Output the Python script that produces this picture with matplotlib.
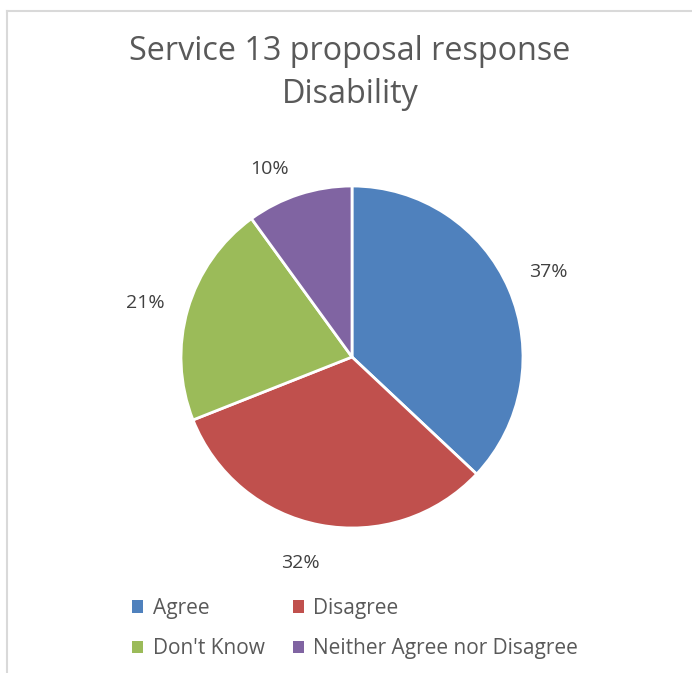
import matplotlib
matplotlib.use("Agg")
import numpy as np
import matplotlib.pyplot as plt
from matplotlib.patches import Patch
from matplotlib.lines import Line2D

categories = ["Agree", "Disagree", "Don't Know", "Neither Agree nor Disagree"]
values = [37, 32, 21, 10]
colors = ["#4F81BD", "#C0504D", "#9BBB59", "#8064A2"]
title = "Service 13 proposal response\nDisability"

# label placement tweaks (Excel best-fit style): radial distance, angular nudge (deg, clockwise)
label_dist = [1.25, 1.24, 1.25, 1.20]
label_nudge = [0.0, 3.4, -1.5, -5.7]

plt.rcParams['font.family'] = ['Open Sans', 'DejaVu Sans']
W, H = 692, 673
fig = plt.figure(figsize=(W/100, H/100), dpi=100)

# frame (top and left edges visible)
fig.add_artist(Line2D([6.5/W, 1.0], [1 - 10.5/H, 1 - 10.5/H], color="#D9D9D9", lw=1.5, transform=fig.transFigure))
fig.add_artist(Line2D([6.5/W, 6.5/W], [0, 1 - 10.5/H], color="#D9D9D9", lw=1.5, transform=fig.transFigure))

cx, cy, r = 352, 357, 171
ax = fig.add_axes([(cx - r)/W, 1 - (cy + r)/H, 2*r/W, 2*r/H])
wedges, texts = ax.pie(values, colors=colors, startangle=90, counterclock=False,
                       labels=[f"{v}%" for v in values], labeldistance=1.25,
                       wedgeprops=dict(edgecolor="white", linewidth=2, clip_on=False),
                       textprops=dict(color="#404040", fontsize=14))
for w, t, d, n in zip(wedges, texts, label_dist, label_nudge):
    ang = np.deg2rad((w.theta1 + w.theta2) / 2 - n)
    t.set_position((d * np.cos(ang), d * np.sin(ang)))
    t.set_ha("center"); t.set_va("center")
ax.set_aspect("equal")
ax.set_xlim(-1, 1); ax.set_ylim(-1, 1)
ax.axis("off")

fig.text(350/W, 1 - 73/H, title, ha="center", va="center", fontsize=23.3,
         color="#595959", linespacing=1.38)

# legend
handles = [Patch(facecolor=c, edgecolor="none") for c in colors]
order = [0, 2, 1, 3]
leg = fig.legend([handles[i] for i in order], [categories[i] for i in order],
                 ncol=2, loc="center left", bbox_to_anchor=(113/W, 1 - 628.5/H),
                 frameon=False, fontsize=15, handlelength=0.55, handleheight=0.55,
                 handletextpad=0.45, columnspacing=1.35, labelspacing=0.95,
                 labelcolor="#595959")

fig.savefig("out.png", dpi=100, facecolor="white")
